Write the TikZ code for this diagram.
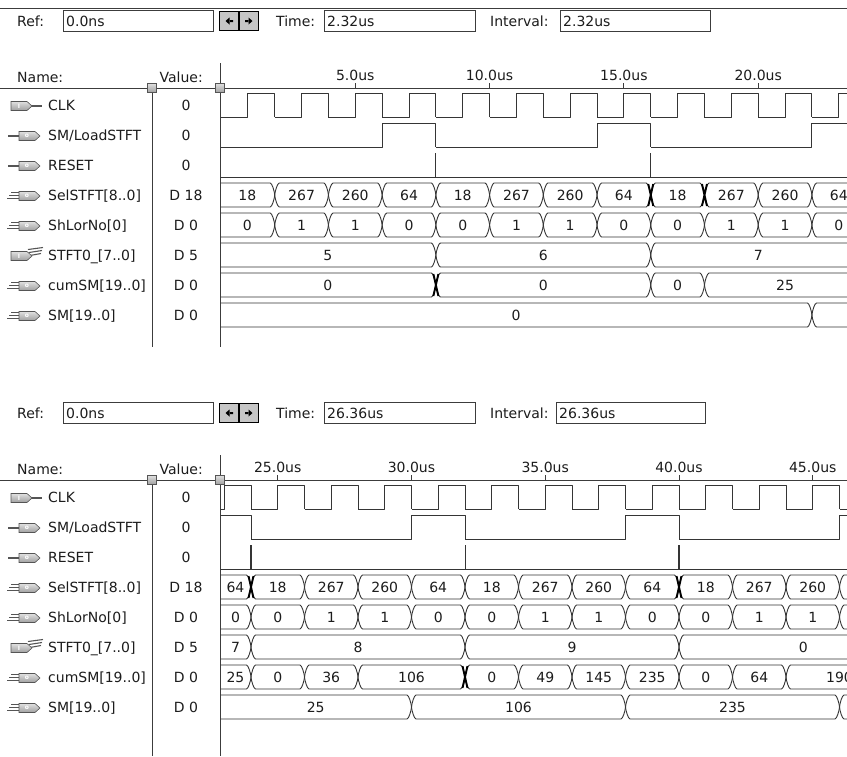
\documentclass[tikz,border=0pt]{standalone}
\usepackage{fontspec}
\setmainfont{DejaVu Sans}
\definecolor{ink}{HTML}{1C1C1C}
\definecolor{wv}{HTML}{353535}
\definecolor{btn}{HTML}{C6C6C6}
\definecolor{icb}{HTML}{A4A4A4}
\definecolor{icd}{HTML}{555555}
\definecolor{frm}{HTML}{3C3C3C}
\newcommand{\txtfont}{\fontsize{14}{16}\selectfont}
\tikzset{
 wave/.style={draw=wv, line width=0.9pt, line join=round},
 boldx/.style={draw=black, line width=1.9pt},
 frame/.style={draw=frm, line width=0.9pt},
 txt/.style={font=\txtfont, text=ink, inner sep=0pt, anchor=base west},
 txtc/.style={font=\txtfont, text=ink, inner sep=0pt, anchor=base},
 txte/.style={font=\txtfont, text=ink, inner sep=0pt, anchor=base east},
 handle/.style={draw=icd, top color=gray!25, bottom color=gray!75, line width=0.6pt},
 leadw/.style={draw=icd, line width=2pt},
 leadb/.style={draw=icd, line width=1.1pt},
}
% time -> x conversion
\newcommand{\wx}[2]{\pgfmathsetmacro#1{\xoff+\xsc*(#2)}}
% bus segment: t1, t2, centre y, label
\newcommand{\bseg}[4]{%
 \wx\wxa{#1}\wx\wxb{#2}%
 \pgfmathsetmacro\wlx{(max(\wxa,220)+min(\wxb,928))/2}%
 \draw[wave] (\wxa+4.5,#3-12) -- (\wxb-4.5,#3-12) .. controls (\wxb-2.8,#3-12) and (\wxb-0.3,#3-4) .. (\wxb,#3) .. controls (\wxb-0.3,#3+4) and (\wxb-2.8,#3+12) .. (\wxb-4.5,#3+12) -- (\wxa+4.5,#3+12) .. controls (\wxa+2.8,#3+12) and (\wxa+0.3,#3+4) .. (\wxa,#3) .. controls (\wxa+0.3,#3-4) and (\wxa+2.8,#3-12) .. cycle;%
 \node[txtc] at (\wlx,#3+5) {#4};%
}
\newcommand{\bxx}[2]{\wx\wxa{#1}\draw[boldx] (\wxa-2.5,#2-11) -- (\wxa+2.5,#2+11) (\wxa-2.5,#2+11) -- (\wxa+2.5,#2-11);}
\newcommand{\pulse}[4]{\wx\wxp{#1}\wx\wxr{#2}\wx\wxf{#3}\draw[wave] (\wxp,#4+12) -- (\wxr,#4+12) -- (\wxr,#4-12) -- (\wxf,#4-12) -- (\wxf,#4+12);}
\newcommand{\rst}[3]{\wx\wxa{#1}\draw[wave, line width=#3] (\wxa,#2-12) -- (\wxa,#2+12);}
% icons
\newcommand{\icbody}[3]{%
 \draw[handle] (#1,#2-4.5) -- (#1+16,#2-4.5) -- (#1+21,#2) -- (#1+16,#2+4.5) -- (#1,#2+4.5) -- cycle;
 \node[font=\fontsize{6}{6}\selectfont\bfseries, text=white, inner sep=0pt] at (#1+8,#2) {#3};}
\newcommand{\icin}[1]{\draw[leadw] (30,#1) -- (42,#1); \icbody{11}{#1}{I}}
\newcommand{\icout}[1]{\draw[leadw] (8,#1) -- (20,#1); \icbody{19}{#1}{o}}
\newcommand{\icbusout}[1]{\draw[leadb] (11,#1-3.8) -- (21,#1-3.8) (9,#1-0.6) -- (21,#1-0.6) (7,#1+2.6) -- (21,#1+2.6); \icbody{19}{#1}{o}}
\newcommand{\icbusin}[1]{\draw[leadb] (30,#1-0.5) -- (41,#1-2.5) (29,#1-3.5) -- (42,#1-5.5) (28,#1-6.5) -- (43,#1-8.5); \icbody{11}{#1}{I}}
\newcommand{\sigrow}[5]{%
 #4{#1+1}
 \node[txt] (#5n) at (48,#1+5) {#2};
 \node[txtc] (#5v) at (186,#1+5) {#3};}
% panel header
\newcommand{\panelhead}[5]{%
 \node[txt] (#1ref) at (17,26) {Ref:};
 \draw[frame] (63,10) rectangle (213,31);
 \node[txt] (#1refv) at (66,26) {0.0ns};
 \draw[draw=black, fill=btn, line width=0.6pt] (219,11.5) rectangle (238.5,30.5) (239.3,11.5) rectangle (258.5,30.5);
 \draw[draw=black, line width=0.9pt] (219,11.5) rectangle (258.5,30.5);
 \fill[black] (225.5,21) -- (229.5,17.5) -- (229.5,24.5) -- cycle (229,20) rectangle (233,22);
 \fill[black] (252.5,21) -- (248.5,17.5) -- (248.5,24.5) -- cycle (249,20) rectangle (245,22);
 \node[txt] (#1time) at (276,26) {Time:};
 \draw[frame] (324,10) rectangle (475,31);
 \node[txt] (#1timev) at (327,26) {#2};
 \node[txt] (#1ivl) at (490,26) {Interval:};
 \draw[frame] (#3,10) rectangle (#4,31);
 \node[txt] (#1ivlv) at (#3+3,26) {#2};
 \node[txt] (#1name) at (17,82) {Name:};
 \node[txte] (#1value) at (203,82) {Value:};
 \draw[frame] (0,88) -- (847,88);
 \draw[frame] (152,88) -- (152,#5);
 \draw[frame] (220,63) -- (220,#5);
 \draw[handle] (147.5,83.5) rectangle (156.5,92.5);
 \draw[handle] (215.5,83.5) rectangle (224.5,92.5);
 \sigrow{105}{CLK}{0}{\icin}{#1a}
 \sigrow{135}{SM/LoadSTFT}{0}{\icout}{#1b}
 \sigrow{165}{RESET}{0}{\icout}{#1c}
 \sigrow{195}{SelSTFT[8..0]}{D 18}{\icbusout}{#1d}
 \sigrow{225}{ShLorNo[0]}{D 0}{\icbusout}{#1e}
 \sigrow{255}{STFT0\_[7..0]}{D 5}{\icbusin}{#1f}
 \sigrow{285}{cumSM[19..0]}{D 0}{\icbusout}{#1g}
 \sigrow{315}{SM[19..0]}{D 0}{\icbusout}{#1h}
}
\begin{document}
\begin{tikzpicture}[x=1pt,y=-1pt]
\fill[white] (0,0) rectangle (847,756);
\useasboundingbox (0,0) rectangle (847,756);
\draw[frame] (0,8) -- (847,8);
% ---------------- top panel ----------------
\begin{scope}
 \panelhead{t}{2.32us}{560}{710}{347}
 \begin{scope}
  \clip (220.5,60) rectangle (847,350);
  \def\xoff{221}\def\xsc{26.86}
  \foreach \tk in {5,10,15,20} {\wx\wxa{\tk}\draw[frame] (\wxa,83) -- (\wxa,88); \node[txtc] at (\wxa,80) {\tk.0us};}
  \foreach \tk in {1,3,...,25} {\pulse{\tk-1}{\tk}{\tk+1}{105}}
  \foreach \tk in {6,14,22,30} {\pulse{\tk-6}{\tk}{\tk+2}{135}}
  \draw[wave] (220,177) -- (847,177);
  \rst{8}{165}{0.9pt}\rst{16}{165}{0.9pt}
  \foreach \ta/\tb/\tv in {-1/2/18,2/4/267,4/6/260,6/8/64,8/10/18,10/12/267,12/14/260,14/16/64,16/18/18,18/20/267,20/22/260,22/24/64} {\bseg{\ta}{\tb}{195}{\tv}}
  \bxx{16}{195}\bxx{18}{195}
  \foreach \ta/\tb/\tv in {-1/2/0,2/4/1,4/6/1,6/8/0,8/10/0,10/12/1,12/14/1,14/16/0,16/18/0,18/20/1,20/22/1,22/24/0} {\bseg{\ta}{\tb}{225}{\tv}}
  \foreach \ta/\tb/\tv in {-1/8/5,8/16/6,16/24/7} {\bseg{\ta}{\tb}{255}{\tv}}
  \foreach \ta/\tb/\tv in {-1/8/0,8/16/0,16/18/0,18/24/25} {\bseg{\ta}{\tb}{285}{\tv}}
  \bxx{8}{285}
  \foreach \ta/\tb/\tv in {-1/22/0,22/30/{}} {\bseg{\ta}{\tb}{315}{\tv}}
 \end{scope}
\end{scope}
% ---------------- bottom panel ----------------
\begin{scope}[yshift=-392pt]
 \panelhead{b}{26.36us}{556}{705}{364}
 \begin{scope}
  \clip (220.5,60) rectangle (847,364);
  \def\xoff{-391}\def\xsc{26.75}
  \foreach \tk in {25,30,35,40,45} {\wx\wxa{\tk}\draw[frame] (\wxa,83) -- (\wxa,88); \node[txtc] at (\wxa,80) {\tk.0us};}
  \foreach \tk in {21,23,...,49} {\pulse{\tk-1}{\tk}{\tk+1}{105}}
  \foreach \tk in {22,30,38,46} {\pulse{\tk-6}{\tk}{\tk+2}{135}}
  \draw[wave] (220,177) -- (847,177);
  \rst{24}{165}{1.8pt}\rst{32}{165}{0.9pt}\rst{40}{165}{1.8pt}
  \foreach \ta/\tb/\tv in {22/24/64,24/26/18,26/28/267,28/30/260,30/32/64,32/34/18,34/36/267,36/38/260,38/40/64,40/42/18,42/44/267,44/46/260,46/48/{}} {\bseg{\ta}{\tb}{195}{\tv}}
  \bxx{24}{195}\bxx{40}{195}
  \foreach \ta/\tb/\tv in {22/24/0,24/26/0,26/28/1,28/30/1,30/32/0,32/34/0,34/36/1,36/38/1,38/40/0,40/42/0,42/44/1,44/46/1,46/48/{}} {\bseg{\ta}{\tb}{225}{\tv}}
  \foreach \ta/\tb/\tv in {16/24/7,24/32/8,32/40/9,40/49.3/0} {\bseg{\ta}{\tb}{255}{\tv}}
  \foreach \ta/\tb/\tv in {22/24/25,24/26/0,26/28/36,28/32/106,32/34/0,34/36/49,36/38/145,38/40/235,40/42/0,42/44/64,44/48/190} {\bseg{\ta}{\tb}{285}{\tv}}
  \bxx{32}{285}
  \foreach \ta/\tb/\tv in {22/30/25,30/38/106,38/46/235,46/54/{}} {\bseg{\ta}{\tb}{315}{\tv}}
 \end{scope}
\end{scope}
\end{tikzpicture}
\end{document}
